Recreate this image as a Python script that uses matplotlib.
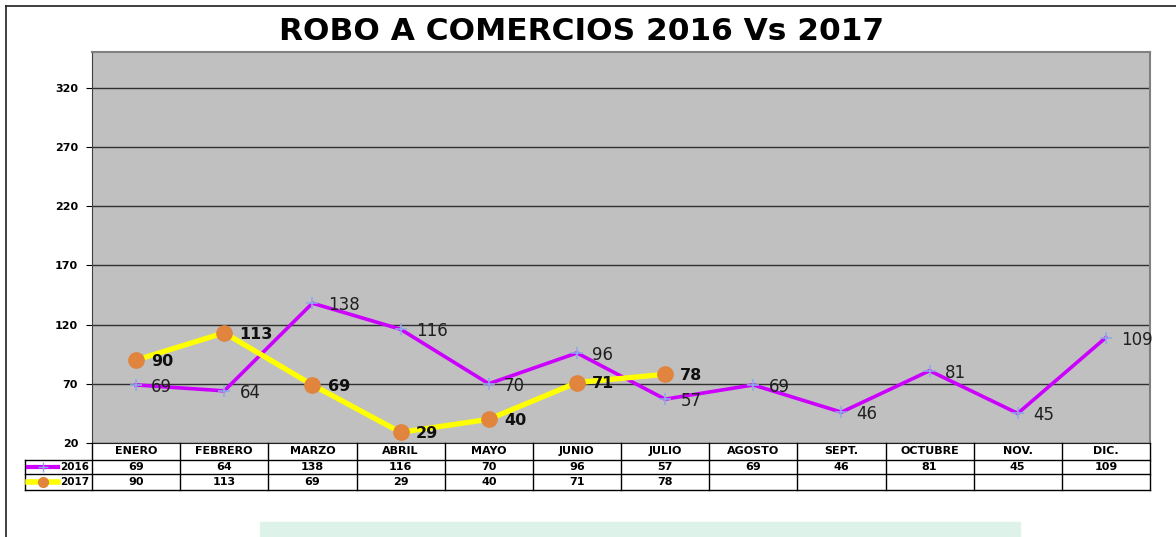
import numpy as np
import matplotlib.pyplot as plt
from matplotlib.lines import Line2D
from matplotlib.patches import Rectangle

plt.rcParams['font.family'] = ['DejaVu Sans']

# data
months = ['ENERO', 'FEBRERO', 'MARZO', 'ABRIL', 'MAYO', 'JUNIO', 'JULIO',
          'AGOSTO', 'SEPT.', 'OCTUBRE', 'NOV.', 'DIC.']
robos_2016 = [69, 64, 138, 116, 70, 96, 57, 69, 46, 81, 45, 109]
robos_2017 = [90, 113, 69, 29, 40, 71, 78]
yticks = [20, 70, 120, 170, 220, 270, 320]

W, H = 1176, 537
fig = plt.figure(figsize=(W / 100, H / 100), dpi=100)

# plot area in pixels (left, top, right, bottom)
px_l, px_t, px_r, px_b = 92, 52, 1150, 443
ax = fig.add_axes([px_l / W, 1 - px_b / H, (px_r - px_l) / W, (px_b - px_t) / H])
ax.set_facecolor('#c0c0c0')

x = np.arange(len(months))
ax.set_xlim(-0.5, len(months) - 0.5)
ax.set_ylim(20, 350)
ax.set_yticks(yticks)
ax.set_yticklabels([str(t) for t in yticks], fontsize=8, fontweight='bold')
ax.yaxis.grid(True, color='#303030', linewidth=1)
ax.set_axisbelow(True)
ax.set_xticks([])
ax.tick_params(axis='y', length=4, width=0.8, pad=6)
for s in ['top', 'right']:
    ax.spines[s].set_color('#808080')
    ax.spines[s].set_linewidth(1.5)
ax.spines['left'].set_color('#404040')
ax.spines['bottom'].set_color('#202020')

c16, m16 = '#cc00ff', '#8fa8e8'
c17, m17 = '#ffff00', '#e0843e'

ax.plot(x, robos_2016, color=c16, lw=2.6, marker='+', ms=9, mec=m16, mew=1.2, zorder=3)
x17 = x[:len(robos_2017)]
ax.plot(x17, robos_2017, color=c17, lw=3.8, marker='o', ms=11, mfc=m17, mec=m17, zorder=4)

for xi, v in zip(x, robos_2016):
    ax.annotate(str(v), (xi, v), xytext=(11, -1.5), textcoords='offset points',
                fontsize=12, va='center', ha='left', color='#202020', zorder=5)
for xi, v in zip(x17, robos_2017):
    ax.annotate(str(v), (xi, v), xytext=(11, -1), textcoords='offset points',
                fontsize=11.5, fontweight='bold', va='center', ha='left', color='#101010', zorder=5)

fig.text(582 / W, 1 - 32 / H, 'ROBO A COMERCIOS 2016 Vs 2017', ha='center', va='center',
         fontsize=22.5, fontweight='bold')

# data table drawn below the plot area, in pixel coordinates of the figure
def fx(px):
    return px / W


def fy(py):
    return 1 - py / H


col_w = (px_r - px_l) / len(months)
row_y = [443, 460, 474, 490]
tbl_l = 25
lk = dict(color='black', lw=1, transform=fig.transFigure)
for yy in row_y[1:]:
    fig.add_artist(Line2D([fx(tbl_l), fx(px_r)], [fy(yy), fy(yy)], **lk))
for i in range(len(months) + 1):
    xx = px_l + i * col_w
    fig.add_artist(Line2D([fx(xx), fx(xx)], [fy(row_y[0]), fy(row_y[-1])], **lk))
fig.add_artist(Line2D([fx(tbl_l), fx(tbl_l)], [fy(row_y[1]), fy(row_y[-1])], **lk))

for i, mname in enumerate(months):
    cx = px_l + (i + 0.5) * col_w
    fig.text(fx(cx), fy((row_y[0] + row_y[1]) / 2), mname, ha='center', va='center',
             fontsize=8, fontweight='bold')
    fig.text(fx(cx), fy((row_y[1] + row_y[2]) / 2), str(robos_2016[i]), ha='center',
             va='center', fontsize=8, fontweight='bold')
    if i < len(robos_2017):
        fig.text(fx(cx), fy((row_y[2] + row_y[3]) / 2), str(robos_2017[i]), ha='center',
                 va='center', fontsize=8, fontweight='bold')

# legend keys in the row-label cells
for yy_px, col, mk, mc, lw, ms, lab in [
        ((row_y[1] + row_y[2]) / 2, c16, '+', m16, 3, 7, '2016'),
        ((row_y[2] + row_y[3]) / 2, c17, 'o', m17, 4, 7, '2017')]:
    fig.add_artist(Line2D([fx(28), fx(58)], [fy(yy_px), fy(yy_px)], color=col, lw=lw,
                          transform=fig.transFigure))
    fig.add_artist(Line2D([fx(43)], [fy(yy_px)], marker=mk, ms=ms, color=mc, mfc=mc, mec=mc,
                          mew=1, transform=fig.transFigure))
    fig.text(fx(89), fy(yy_px), lab, ha='right', va='center', fontsize=7.5, fontweight='bold')

# outer frame (top and left edges)
fig.add_artist(Line2D([fx(6), fx(W)], [fy(6), fy(6)], color='#202020', lw=1.2,
                      transform=fig.transFigure))
fig.add_artist(Line2D([fx(6), fx(6)], [fy(6), fy(H)], color='#202020', lw=1.2,
                      transform=fig.transFigure))

# faint green band at the bottom
fig.add_artist(Rectangle((fx(260), 0), fx(1020) - fx(260), fy(522), color='#ddf3ea',
                         transform=fig.transFigure, zorder=0))

fig.savefig('out.png', dpi=100)
